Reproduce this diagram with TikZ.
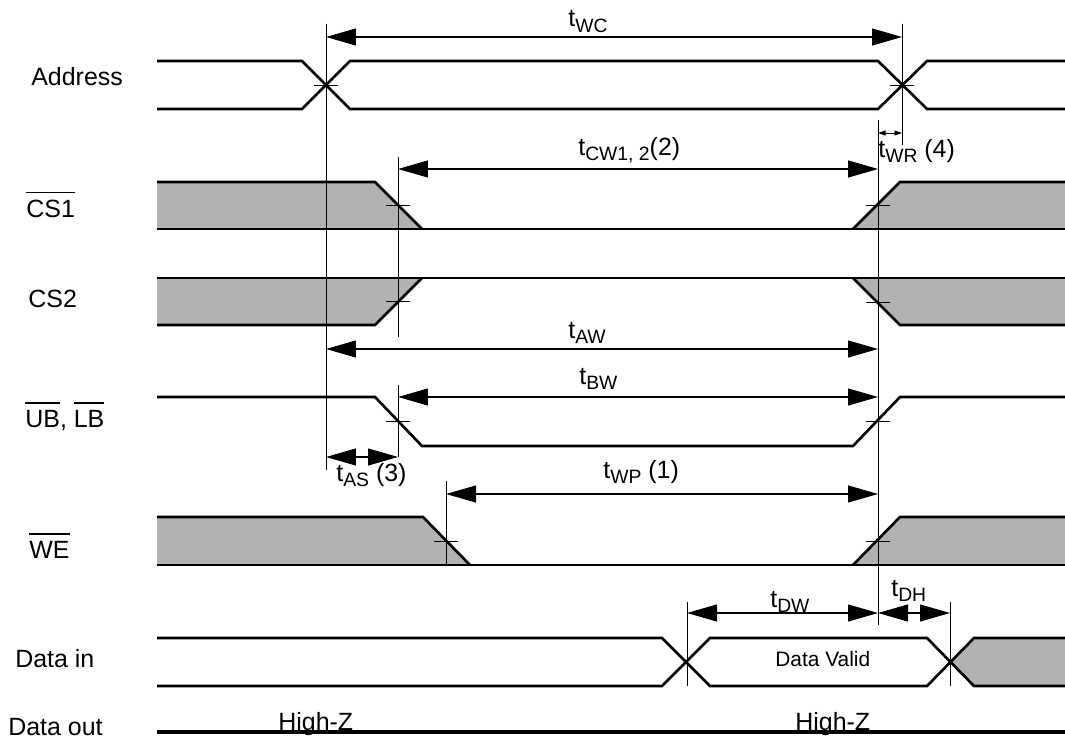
\documentclass[tikz,border=0pt]{standalone}
\usepackage{fontspec}
\setmainfont{Liberation Sans}
\usetikzlibrary{arrows.meta}

\newcommand{\ovl}[1]{\leavevmode\vbox{\hrule height 0.8pt\kern 3.5pt\hbox{#1}}}
\newcommand{\tm}[2]{t\raisebox{-3pt}{\fontsize{11}{11}\selectfont #1}#2}

\begin{document}
\begin{tikzpicture}[x=0.02cm,y=-0.02cm,
    sig/.style={line width=1.5pt,line join=miter},
    shade/.style={fill=black!30},
    guide/.style={line width=0.5pt},
    dim/.style={line width=0.6pt,{Triangle[length=0.6cm,width=0.34cm]}-{Triangle[length=0.6cm,width=0.34cm]}},
    lbl/.style={font=\fontsize{14.2}{17}\selectfont,anchor=base west,inner sep=0pt}]
  \useasboundingbox (0,0) rectangle (1065,740);

  % Address
  \draw[sig] (157,61) -- (302,61) -- (350,109) -- (878,109) -- (927,61) -- (1065,61);
  \draw[sig] (157,109) -- (302,109) -- (350,61) -- (878,61) -- (927,109) -- (1065,109);

  % CS1
  \fill[shade] (157,182) -- (375,182) -- (422,229) -- (157,229) -- cycle;
  \fill[shade] (853,229) -- (900,182) -- (1065,182) -- (1065,229) -- cycle;
  \draw[sig] (157,182) -- (375,182) -- (422,229);
  \draw[sig] (853,229) -- (900,182) -- (1065,182);
  \draw[sig] (157,229) -- (1065,229);

  % CS2
  \fill[shade] (157,278) -- (422,278) -- (375,325) -- (157,325) -- cycle;
  \fill[shade] (853,278) -- (1065,278) -- (1065,325) -- (900,325) -- cycle;
  \draw[sig] (157,278) -- (1065,278);
  \draw[sig] (157,325) -- (375,325) -- (422,278);
  \draw[sig] (853,278) -- (900,325) -- (1065,325);

  % UB, LB
  \draw[sig] (157,397) -- (375,397) -- (422,446) -- (853,446) -- (900,397) -- (1065,397);

  % WE
  \fill[shade] (157,517) -- (423,517) -- (470,565) -- (157,565) -- cycle;
  \fill[shade] (853,565) -- (900,517) -- (1065,517) -- (1065,565) -- cycle;
  \draw[sig] (157,517) -- (423,517) -- (470,565);
  \draw[sig] (853,565) -- (900,517) -- (1065,517);
  \draw[sig] (157,565) -- (1065,565);

  % Data in / Data out
  \fill[shade] (950,662) -- (974,638) -- (1065,638) -- (1065,686) -- (974,686) -- cycle;
  \draw[sig] (157,638) -- (662,638) -- (710,686) -- (927,686) -- (974,638) -- (1065,638);
  \draw[sig] (157,686) -- (662,686) -- (710,638) -- (927,638) -- (974,686) -- (1065,686);
  \draw[line width=2.3pt] (157,732) -- (1065,732);

  % edges
  \draw[guide] (326,24) -- (326,470);
  \draw[guide] (902,24) -- (902,145);
  \draw[guide] (398,157) -- (398,337);
  \draw[guide] (398,385) -- (398,457);
  \draw[guide] (878,120) -- (878,625);
  \draw[guide] (446,481) -- (446,565);
  \draw[guide] (687,602) -- (687,686);
  \draw[guide] (950,602) -- (950,686);

  \draw[guide] (314,85) -- (338,85);
  \draw[guide] (890,85) -- (914,85);
  \draw[guide] (386,205) -- (410,205);
  \draw[guide] (866,205) -- (890,205);
  \draw[guide] (386,301) -- (410,301);
  \draw[guide] (866,302) -- (890,302);
  \draw[guide] (386,421) -- (410,421);
  \draw[guide] (866,421) -- (890,421);
  \draw[guide] (434,541) -- (458,541);
  \draw[guide] (866,541) -- (890,541);

  % timing arrows
  \coordinate (wc1) at (326,37);
  \coordinate (wc2) at (902,37);
  \coordinate (cw1) at (398,169);
  \coordinate (cw2) at (878,169);
  \coordinate (wr1) at (878,133);
  \coordinate (wr2) at (902,133);
  \coordinate (aw1) at (326,349);
  \coordinate (aw2) at (878,349);
  \coordinate (bw1) at (398,397);
  \coordinate (bw2) at (878,397);
  \coordinate (as1) at (326,457);
  \coordinate (as2) at (398,457);
  \coordinate (wp1) at (446,494);
  \coordinate (wp2) at (878,494);
  \coordinate (dw1) at (687,613);
  \coordinate (dw2) at (878,613);
  \coordinate (dh2) at (950,613);

  \draw[dim] (wc1) -- (wc2);
  \draw[dim] (cw1) -- (cw2);
  \draw[line width=0.5pt,{Triangle[length=0.15cm,width=0.1cm]}-{Triangle[length=0.15cm,width=0.1cm]}] (wr1) -- (wr2);
  \draw[dim] (aw1) -- (aw2);
  \draw[dim] (bw1) -- (bw2);
  \draw[dim] (as1) -- (as2);
  \draw[dim] (wp1) -- (wp2);
  \draw[dim] (dw1) -- (dw2);
  \draw[dim] (dw2) -- (dh2);

  % labels
  \node[lbl] (addr) at (31,86) {Address};
  \node[lbl] (cs1) at (26,217) {\ovl{CS1}};
  \node[lbl] (cs2) at (28,307) {CS2};
  \node[lbl] (ublb) at (25,427) {\ovl{UB}, \ovl{LB}};
  \node[lbl] (we) at (29,558) {\ovl{WE}};
  \node[lbl] (din) at (15,667) {Data in};
  \node[lbl] (dout) at (8,735) {Data out};

  \node[lbl] (twc) at (568,27) {\tm{WC}{}};
  \node[lbl] (tcw) at (578,155) {\tm{CW1, 2}{(2)}};
  \node[lbl] (twr) at (878,157) {\tm{WR}{ (4)}};
  \node[lbl] (taw) at (568,338) {\tm{AW}{}};
  \node[lbl] (tbw) at (579,384) {\tm{BW}{}};
  \node[lbl] (tas) at (336,481) {\tm{AS}{ (3)}};
  \node[lbl] (twp) at (603,478) {\tm{WP}{ (1)}};
  \node[lbl] (tdw) at (770,607) {\tm{DW}{}};
  \node[lbl] (tdh) at (891,596) {\tm{DH}{}};

  \node[lbl,font=\fontsize{11.9}{14}\selectfont] (valid) at (775,666) {Data Valid};
  \node[lbl] (hz1) at (278,730) {High-Z};
  \node[lbl] (hz2) at (795,730) {High-Z};
\end{tikzpicture}
\end{document}
